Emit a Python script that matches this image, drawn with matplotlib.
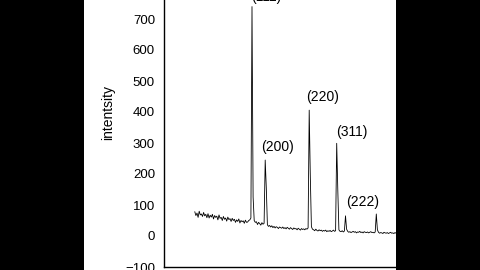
import numpy as np
import matplotlib
matplotlib.use("Agg")
import matplotlib.pyplot as plt
from matplotlib.patches import Rectangle

plt.rcParams['font.family'] = ['Liberation Sans', 'DejaVu Sans']

# 2-theta grid (arbitrary units), 0.5 step
x_start = 14.0
x_step = 0.5
intensity = [
    78, 66, 74, 60, 80, 68, 71, 63, 76, 65, 70, 59,
    72, 58, 67, 61, 70, 55, 66, 60, 64, 52, 68, 57,
    60, 50, 63, 54, 58, 48, 61, 53, 56, 47, 57, 50,
    54, 44, 52, 47, 55, 42, 50, 46, 49, 41, 51, 44,
    45, 50, 52, 58, 740, 126, 50, 44,
    46, 37, 44, 40, 35, 43, 38, 41,
    245, 155, 36, 31, 34, 29,
    33, 27, 31, 26, 30, 28, 24, 29, 27, 25,
    29, 24, 27, 23, 28, 25, 22, 27, 24, 21, 26, 23,
    24, 20, 25, 22, 19, 24, 21, 23, 20, 24, 22, 26,
    406, 194, 30, 22,
    20, 17, 22, 18, 16, 20, 17, 19, 15, 18, 16, 19, 14, 17, 15, 18, 14, 16, 19, 15, 17,
    299, 148, 20, 15,
    14, 17, 13, 16,
    65, 22,
    15, 12, 14, 11, 13, 15, 12, 14, 10, 13, 12, 15, 11, 13, 10, 14, 12, 11, 13, 10, 12, 14, 11, 12, 10, 13,
    71, 20,
    12, 9, 11, 10, 8, 12, 10, 9, 11, 8, 10, 12, 9, 10, 8, 11, 9, 10, 12, 8, 10, 9, 11, 8, 9, 10, 8, 11, 9, 10,
]
two_theta = x_start + x_step * np.arange(len(intensity))

peak_labels = ["(111)", "(200)", "(220)", "(311)", "(222)"]
label_x = [46.5, 51.6, 72.0, 85.2, 90.5]
label_y = [772, 288, 448, 335, 110]

yticks = [-100, 0, 100, 200, 300, 400, 500, 600, 700]

W, H = 480, 270
fig = plt.figure(figsize=(4.8, 2.7), dpi=100)
fig.patch.set_facecolor('white')

ax_left = 164 / W
ax_bottom = (270 - 267) / H
ax_w = 330 / W
ax_h = 310 / H
ax = fig.add_axes([ax_left, ax_bottom, ax_w, ax_h])
ax.plot(two_theta, intensity, color='black', linewidth=0.6)
ax.set_xlim(0, 150)
ax.set_ylim(-100, 900)
ax.set_yticks(yticks)
ax.set_xticks([])
ax.tick_params(axis='y', length=0, pad=6.5, labelsize=9.5)
for s in ax.spines.values():
    s.set_linewidth(1.0)

for t, lx, ly in zip(peak_labels, label_x, label_y):
    ax.text(lx, ly, t, ha='center', va='center', fontsize=10)

fig.text(108 / W, 1 - 113 / H, "intentsity", rotation=90,
         ha='center', va='center', fontsize=10)

# black letterbox bars
fig.add_artist(Rectangle((0, 0), 84 / W, 1, transform=fig.transFigure,
                         facecolor='black', edgecolor='none', zorder=10))
fig.add_artist(Rectangle((396 / W, 0), 84 / W, 1, transform=fig.transFigure,
                         facecolor='black', edgecolor='none', zorder=10))

fig.savefig("out.png", dpi=100)
